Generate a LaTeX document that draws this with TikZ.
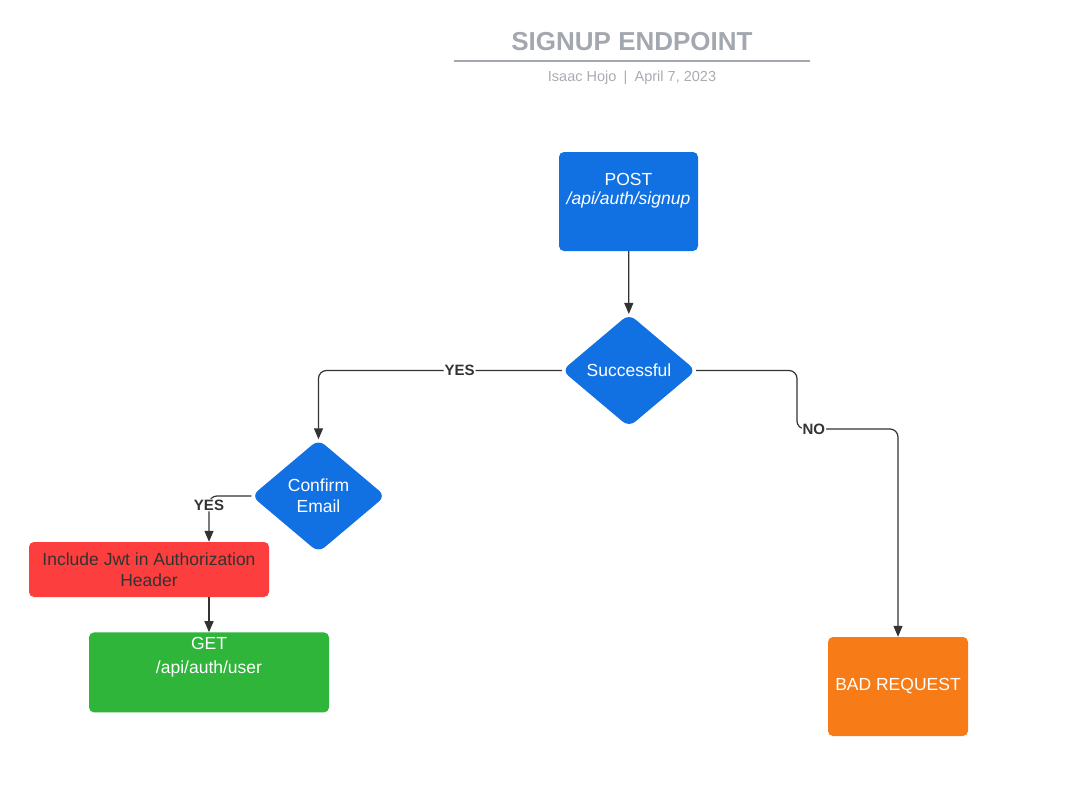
\documentclass[tikz,border=0pt]{standalone}
\usepackage{fontspec}
\setmainfont{Liberation Sans}
\usetikzlibrary{arrows.meta,positioning,shapes.geometric}

\definecolor{flowblue}{HTML}{1271E2}
\definecolor{flowred}{HTML}{FD3E3E}
\definecolor{flowgreen}{HTML}{2EB53A}
\definecolor{floworange}{HTML}{F77C17}
\definecolor{titlegray}{HTML}{A3A8B0}
\definecolor{bylinegray}{HTML}{A9ADB3}
\definecolor{linkgray}{HTML}{333333}

\begin{document}
\begin{tikzpicture}[%
    x=1pt, y=-1pt,
    >={Triangle[length=11pt,width=9pt]},
    box/.style={rectangle, rounded corners=5pt, text=white, align=center,
        inner sep=0pt, font=\fontsize{17.5}{21}\selectfont},
    decision/.style={diamond, fill=flowblue, rounded corners=8pt, text=white,
        align=center, inner sep=0pt, minimum width=134pt, minimum height=113pt,
        font=\fontsize{17.5}{21}\selectfont},
    flow/.style={draw=linkgray, line width=1.2pt, rounded corners=8pt},
    answer/.style={fill=white, text=linkgray, inner sep=1pt,
        font=\bfseries\fontsize{15}{18}\selectfont},
  ]
    \fill[white] (0,0) rectangle (1069,790);
    \useasboundingbox (0,0) rectangle (1069,790);

    % heading
    \node (title)  at (632,42) [text=titlegray, font=\bfseries\fontsize{26}{30}\selectfont]
        {SIGNUP ENDPOINT};
    \node (byline) at (632,77.5) [text=bylinegray, font=\fontsize{14.5}{17}\selectfont]
        {Isaac Hojo\enspace|\enspace April 7, 2023};
    \draw[titlegray, line width=2pt] (454,61) -- (810,61);

    % boxes and decisions
    \node (post) at (628.5,201.5) [box, fill=flowblue, minimum width=139pt,
        minimum height=99pt, text depth=26pt, font=\fontsize{17.5}{19}\selectfont]
        {POST\\\textit{/api/auth/signup}};
    \node (success) at (629,370.5) [decision] {Successful};
    \node (confirm) at (318.5,496) [decision] {Confirm\\Email};
    \node (include) at (149,569.5) [box, fill=flowred, text=linkgray,
        minimum width=240pt, minimum height=55pt]
        {Include Jwt in Authorization\\Header};
    \node (get) [below=35pt of include, xshift=60pt, box, fill=flowgreen,
        minimum width=240pt, minimum height=80pt, text depth=34pt]
        {GET\\[3pt]/api/auth/user};
    \node (bad) at (898,686.5) [box, fill=floworange, minimum width=140pt,
        minimum height=99pt] {BAD REQUEST};
    \coordinate (nobend) at (797,429);

    % connectors
    \path[->] (post)         edge [flow] (success)
              (include.south -| get.north) edge [flow] (get.north)
              ;
    \draw[->, flow] (success.west) -| node[answer, pos=0.21] {YES} (confirm.north);
    \draw[->, flow] (confirm.west) -| node[answer, pos=0.6] {YES}
        (get.north |- include.north);
    \draw[->, flow] (success.east) -| (nobend)
        node[answer, anchor=west, xshift=4pt] {NO} -| (bad.north);
  \end{tikzpicture}
\end{document}
